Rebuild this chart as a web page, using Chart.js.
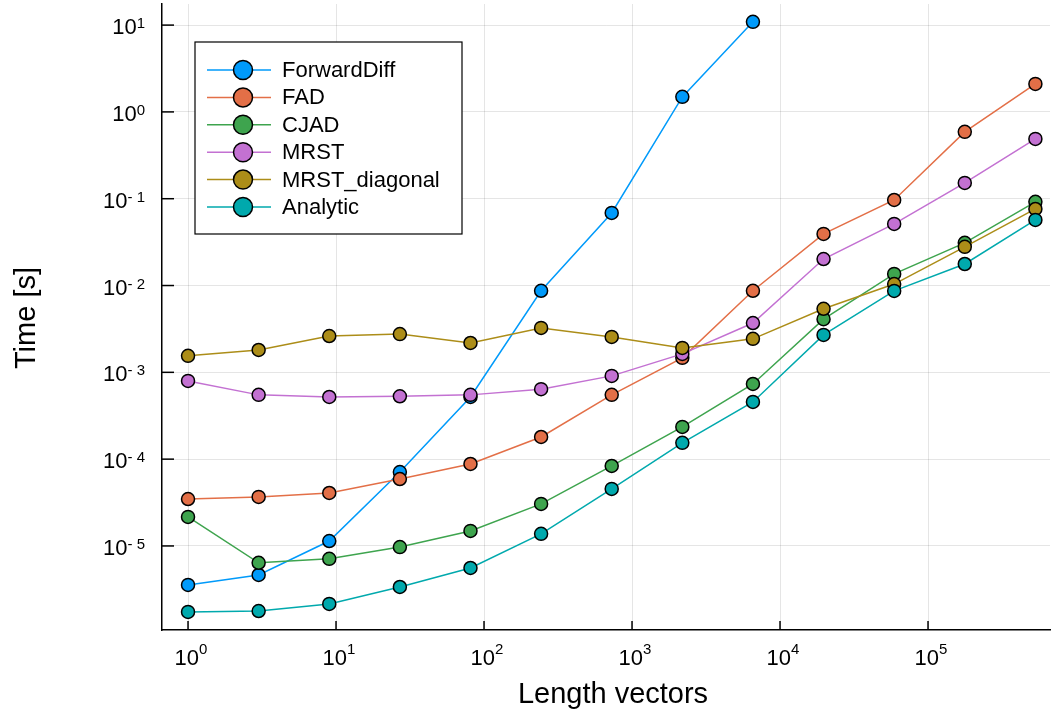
<!DOCTYPE html>
<html>
<head>
<meta charset="utf-8">
<script src="https://cdn.jsdelivr.net/npm/chart.js@4.4.1/dist/chart.umd.min.js"></script>
<style>
  html, body { margin: 0; padding: 0; background: #fff; }
  canvas { display: block; }
</style>
</head>
<body>
<canvas id="myChart" width="1051" height="713"></canvas>
<script>
// vector lengths (3^k) and timings in seconds
const lengths = [1, 3, 9, 27, 81, 243, 729, 2187, 6561, 19683, 59049, 177147, 531441]
const forwardDiff = [3.56e-6, 4.63e-6, 1.14e-5, 7.1e-5, 5.2e-4, 8.7e-3, 0.0686, 1.49, 10.9]
const fad = [3.47e-5, 3.67e-5, 4.08e-5, 5.9e-5, 8.8e-5, 1.8e-4, 5.5e-4, 1.47e-3, 8.7e-3, 0.0393, 0.0968, 0.589, 2.10]
const cjad = [2.16e-5, 6.4e-6, 7.1e-6, 9.7e-6, 1.49e-5, 3.05e-5, 8.35e-5, 2.35e-4, 7.35e-4, 4.1e-3, 0.0136, 0.031, 0.092]
const mrst = [7.96e-4, 5.5e-4, 5.2e-4, 5.3e-4, 5.5e-4, 6.4e-4, 9.1e-4, 1.63e-3, 3.7e-3, 0.0202, 0.0513, 0.152, 0.489]
const mrstDiagonal = [1.55e-3, 1.81e-3, 2.62e-3, 2.76e-3, 2.18e-3, 3.25e-3, 2.56e-3, 1.91e-3, 2.43e-3, 5.4e-3, 0.0104, 0.0279, 0.0762]
const analytic = [1.74e-6, 1.78e-6, 2.15e-6, 3.37e-6, 5.58e-6, 1.38e-5, 4.54e-5, 1.54e-4, 4.56e-4, 2.7e-3, 8.67e-3, 0.0177, 0.057]

const seriesNames = ["ForwardDiff", "FAD", "CJAD", "MRST", "MRST_diagonal", "Analytic"]
const seriesData = [forwardDiff, fad, cjad, mrst, mrstDiagonal, analytic]
const seriesColors = ["#009AFA", "#E36F47", "#3EA44E", "#C371D2", "#AC8D18", "#00A9AD"]

const xTickExps = [0, 1, 2, 3, 4, 5]
const yTickExps = [1, 0, -1, -2, -3, -4, -5]

const FONT = '"Liberation Sans", Arial, sans-serif'

const datasets = seriesData.map((vals, i) => ({
    label: seriesNames[i],
    data: vals.map((v, j) => ({x: lengths[j], y: v})),
    borderColor: seriesColors[i],
    backgroundColor: seriesColors[i],
    pointBackgroundColor: seriesColors[i],
    pointBorderColor: "#000",
    pointBorderWidth: 1.5,
    pointRadius: 6.5,
    borderWidth: 1.5,
    order: seriesNames.length - i // later series on top
}))

// superscript tick labels, inward ticks, axis titles and legend box
const decorations = {
    id: "decorations",
    afterDraw(chart) {
        const ctx = chart.ctx
        const xs = chart.scales.x
        const ys = chart.scales.y
        const area = chart.chartArea
        ctx.save()
        ctx.strokeStyle = "#000"
        ctx.lineWidth = 1.5
        ctx.fillStyle = "#000"

        // x ticks
        for (const e of xTickExps) {
            const px = xs.getPixelForValue(Math.pow(10, e))
            ctx.beginPath()
            ctx.moveTo(px, area.bottom)
            ctx.lineTo(px, area.bottom - 9)
            ctx.stroke()
            ctx.font = "22px " + FONT
            const w = ctx.measureText("10").width
            ctx.font = "15px " + FONT
            const sw = ctx.measureText(String(e)).width
            const left = px - (w + sw) / 2 + 3
            ctx.font = "22px " + FONT
            ctx.textAlign = "left"
            ctx.textBaseline = "alphabetic"
            ctx.fillText("10", left, 665)
            ctx.font = "15px " + FONT
            ctx.fillText(String(e), left + w, 654)
        }

        // y ticks
        for (const e of yTickExps) {
            const py = ys.getPixelForValue(Math.pow(10, e))
            ctx.beginPath()
            ctx.moveTo(area.left, py)
            ctx.lineTo(area.left + 12, py)
            ctx.stroke()
            const sup = e < 0 ? "- " + (-e) : String(e)
            ctx.font = "15px " + FONT
            const sw = ctx.measureText(sup).width
            const right = 145
            ctx.textAlign = "right"
            ctx.textBaseline = "alphabetic"
            ctx.fillText(sup, right, py + 3)
            ctx.font = "22px " + FONT
            ctx.fillText("10", right - sw, py + 9)
        }

        // axis titles
        ctx.font = "29px " + FONT
        ctx.textAlign = "center"
        ctx.textBaseline = "alphabetic"
        ctx.fillText("Length vectors", (area.left + area.right) / 2 + 7, 703)
        ctx.save()
        ctx.translate(35, 318)
        ctx.rotate(-Math.PI / 2)
        ctx.fillText("Time [s]", 0, 0)
        ctx.restore()

        // legend
        const bx = 195, by = 42, bw = 267, bh = 192
        ctx.fillStyle = "#fff"
        ctx.fillRect(bx, by, bw, bh)
        ctx.strokeStyle = "#000"
        ctx.lineWidth = 1.2
        ctx.strokeRect(bx, by, bw, bh)
        ctx.font = "22px " + FONT
        ctx.textAlign = "left"
        ctx.textBaseline = "middle"
        chart.data.datasets.forEach((ds, i) => {
            const ry = 70 + i * 27.4
            ctx.strokeStyle = ds.borderColor
            ctx.lineWidth = 1.5
            ctx.beginPath()
            ctx.moveTo(207, ry)
            ctx.lineTo(271, ry)
            ctx.stroke()
            ctx.beginPath()
            ctx.arc(243, ry, 9.5, 0, Math.PI * 2)
            ctx.fillStyle = ds.borderColor
            ctx.fill()
            ctx.strokeStyle = "#000"
            ctx.lineWidth = 1.5
            ctx.stroke()
            ctx.fillStyle = "#000"
            ctx.fillText(ds.label, 282, ry + 1)
        })
        ctx.restore()
    }
}

const decadeTicks = (exps) => (scale) => {
    scale.ticks = exps.map(e => ({value: Math.pow(10, e)}))
}

new Chart("myChart", {
    type: "line",
    data: {datasets: datasets},
    options: {
        responsive: false,
        animation: false,
        layout: {autoPadding: false, padding: {top: 4, right: 1, left: 0, bottom: 0}},
        plugins: {
            legend: {display: false},
            tooltip: {enabled: false}
        },
        scales: {
            x: {
                type: "logarithmic",
                min: 0.667,
                max: 6.67e5,
                afterBuildTicks: decadeTicks(xTickExps),
                afterFit: (scale) => { scale.height = 83 },
                ticks: {display: false},
                grid: {color: "rgba(0,0,0,0.1)", lineWidth: 1, drawTicks: false},
                border: {display: true, color: "#000", width: 1.5}
            },
            y: {
                type: "logarithmic",
                min: 1.076e-6,
                max: 17.5,
                afterBuildTicks: decadeTicks(yTickExps),
                afterFit: (scale) => { scale.width = 162 },
                ticks: {display: false},
                grid: {color: "rgba(0,0,0,0.1)", lineWidth: 1, drawTicks: false},
                border: {display: true, color: "#000", width: 1.5}
            }
        }
    },
    plugins: [decorations]
})
</script>
</body>
</html>
